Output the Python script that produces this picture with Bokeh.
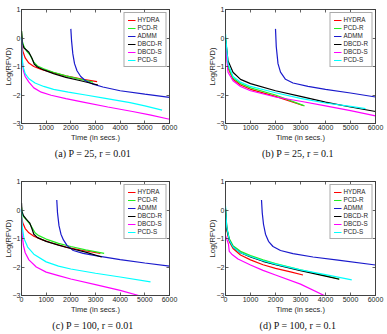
from bokeh.plotting import figure
from bokeh.layouts import gridplot
from bokeh.models import Title, Legend, LegendItem, Range1d, FixedTicker, LinearAxis
from bokeh.embed import file_html
from bokeh.resources import INLINE

SERIES = ["HYDRA", "PCD-R", "ADMM", "DBCD-R", "DBCD-S", "PCD-S"]
COLORS = ["#ff0000", "#22ee22", "#1a1acc", "#000000", "#ff00ff", "#00ffff"]
X_TICKS = [0, 1000, 2000, 3000, 4000, 5000, 6000]
Y_TICKS = [-3, -2, -1, 0, 1]
CAPTIONS = ["(a)  P = 25,  r = 0.01", "(b)  P = 25,  r = 0.1",
            "(c)  P = 100,  r = 0.01", "(d)  P = 100,  r = 0.1"]

# ---- panel (a): P=25, r=0.01
A_HYDRA_T = [0, 50, 150, 300, 500, 800, 1200, 1800, 2500, 3065]
A_HYDRA_Y = [-0.1, -0.45, -0.7, -0.88, -1.0, -1.1, -1.2, -1.33, -1.45, -1.53]
A_PCDR_T = [0, 30, 100, 200, 350, 500, 650, 900, 1300, 1800, 2400, 2900]
A_PCDR_Y = [0.25, -0.1, -0.3, -0.45, -0.6, -0.85, -0.98, -1.08, -1.2, -1.33, -1.45, -1.55]
A_ADMM_T = [2000, 2030, 2080, 2150, 2250, 2400, 2600, 2900, 3300, 4000, 5000, 6000]
A_ADMM_Y = [0.32, -0.1, -0.55, -0.9, -1.15, -1.35, -1.5, -1.62, -1.72, -1.85, -1.97, -2.08]
A_DBCDR_T = [0, 40, 100, 200, 300, 420, 520, 650, 900, 1300, 1800, 2400, 3100]
A_DBCDR_Y = [0.25, -0.2, -0.35, -0.42, -0.5, -0.7, -0.92, -1.02, -1.12, -1.25, -1.38, -1.5, -1.65]
A_DBCDS_T = [0, 30, 80, 150, 300, 500, 800, 1200, 1800, 2500, 3500, 4500, 5200, 6000]
A_DBCDS_Y = [0.0, -0.8, -1.15, -1.35, -1.55, -1.75, -1.9, -2.01, -2.13, -2.25, -2.42, -2.58, -2.7, -2.85]
A_PCDS_T = [0, 20, 60, 150, 300, 550, 900, 1300, 1900, 2600, 3400, 4400, 5000, 5700]
A_PCDS_Y = [0.0, -0.6, -1.0, -1.25, -1.43, -1.58, -1.7, -1.8, -1.9, -2.0, -2.12, -2.27, -2.38, -2.53]

# ---- panel (b): P=25, r=0.1
B_HYDRA_T = [0, 100, 300, 600, 1000, 2000, 3100]
B_HYDRA_Y = [-0.1, -1.05, -1.45, -1.65, -1.8, -2.05, -2.37]
B_PCDR_T = [0, 100, 300, 600, 1000, 2000, 3160]
B_PCDR_Y = [0.0, -1.0, -1.4, -1.6, -1.75, -2.0, -2.38]
B_ADMM_T = [2000, 2030, 2100, 2200, 2400, 2700, 3300, 4000, 5000, 6000]
B_ADMM_Y = [0.32, -0.3, -0.9, -1.2, -1.45, -1.58, -1.7, -1.8, -1.93, -2.07]
B_DBCDR_T = [0, 100, 300, 600, 1000, 2000, 3000, 4000, 5000, 6000]
B_DBCDR_Y = [0.0, -0.8, -1.2, -1.45, -1.6, -1.85, -2.05, -2.25, -2.42, -2.58]
B_DBCDS_T = [0, 100, 300, 600, 1000, 2000, 3000, 4000, 5000, 6000]
B_DBCDS_Y = [-0.2, -1.2, -1.5, -1.7, -1.85, -2.07, -2.22, -2.38, -2.55, -2.73]
B_PCDS_T = [0, 100, 300, 600, 1000, 2000, 3000, 4000, 5000, 5600]
B_PCDS_Y = [0.15, -0.9, -1.35, -1.55, -1.7, -1.92, -2.12, -2.28, -2.4, -2.48]

# ---- panel (c): P=100, r=0.01
C_HYDRA_T = [0, 50, 150, 300, 500, 800, 1200, 1800, 2500, 3200]
C_HYDRA_Y = [-0.2, -0.45, -0.65, -0.8, -0.92, -1.03, -1.15, -1.3, -1.42, -1.52]
C_PCDR_T = [0, 30, 100, 200, 350, 450, 550, 700, 1000, 1500, 2000, 2600, 3350]
C_PCDR_Y = [0.1, -0.15, -0.25, -0.35, -0.5, -0.65, -0.8, -0.9, -1.02, -1.17, -1.28, -1.4, -1.52]
C_ADMM_T = [1430, 1460, 1520, 1600, 1700, 1850, 2100, 2500, 3000, 4000, 5000, 6000]
C_ADMM_Y = [0.35, -0.1, -0.55, -0.85, -1.05, -1.25, -1.42, -1.52, -1.6, -1.74, -1.86, -1.97]
C_DBCDR_T = [0, 20, 80, 200, 330, 420, 500, 650, 1000, 1500, 2000, 2600, 3250]
C_DBCDR_Y = [0.25, -0.05, -0.2, -0.33, -0.45, -0.65, -0.85, -0.97, -1.1, -1.23, -1.35, -1.48, -1.65]
C_DBCDS_T = [0, 30, 80, 150, 300, 600, 1000, 1500, 2000, 3000, 4000, 4750]
C_DBCDS_Y = [-0.3, -0.9, -1.25, -1.5, -1.75, -2.0, -2.18, -2.3, -2.42, -2.62, -2.82, -3.0]
C_PCDS_T = [0, 30, 100, 250, 500, 1000, 1500, 2000, 3000, 4000, 5230]
C_PCDS_Y = [0.0, -0.6, -1.0, -1.3, -1.55, -1.82, -1.97, -2.07, -2.22, -2.35, -2.52]

# ---- panel (d): P=100, r=0.1
D_HYDRA_T = [0, 50, 150, 300, 600, 1000, 1500, 2000, 2600, 3100]
D_HYDRA_Y = [0.0, -0.7, -1.1, -1.35, -1.58, -1.75, -1.92, -2.05, -2.17, -2.28]
D_PCDR_T = [0, 50, 150, 300, 600, 1000, 1500, 2000, 3000, 4000, 4550]
D_PCDR_Y = [0.05, -0.6, -1.0, -1.25, -1.45, -1.6, -1.75, -1.88, -2.1, -2.3, -2.42]
D_ADMM_T = [1440, 1470, 1520, 1600, 1720, 1900, 2200, 2700, 3500, 4500, 6000]
D_ADMM_Y = [0.35, -0.1, -0.5, -0.85, -1.1, -1.28, -1.42, -1.53, -1.65, -1.76, -1.93]
D_DBCDR_T = [0, 50, 150, 300, 600, 1000, 1500, 2000, 3000, 4000, 4550]
D_DBCDR_Y = [0.05, -0.65, -1.05, -1.3, -1.5, -1.65, -1.8, -1.92, -2.13, -2.32, -2.43]
D_DBCDS_T = [0, 60, 120, 150, 250, 500, 1000, 1500, 2000, 3000, 3950]
D_DBCDS_Y = [-0.9, -1.05, -1.2, -1.45, -1.55, -1.72, -1.93, -2.12, -2.28, -2.6, -3.0]
D_PCDS_T = [0, 50, 150, 300, 600, 1000, 1500, 2000, 3000, 4000, 5050]
D_PCDS_Y = [0.15, -0.6, -1.05, -1.3, -1.5, -1.63, -1.78, -1.9, -2.1, -2.27, -2.45]

PANELS = [
    [(A_HYDRA_T, A_HYDRA_Y), (A_PCDR_T, A_PCDR_Y), (A_ADMM_T, A_ADMM_Y),
     (A_DBCDR_T, A_DBCDR_Y), (A_DBCDS_T, A_DBCDS_Y), (A_PCDS_T, A_PCDS_Y)],
    [(B_HYDRA_T, B_HYDRA_Y), (B_PCDR_T, B_PCDR_Y), (B_ADMM_T, B_ADMM_Y),
     (B_DBCDR_T, B_DBCDR_Y), (B_DBCDS_T, B_DBCDS_Y), (B_PCDS_T, B_PCDS_Y)],
    [(C_HYDRA_T, C_HYDRA_Y), (C_PCDR_T, C_PCDR_Y), (C_ADMM_T, C_ADMM_Y),
     (C_DBCDR_T, C_DBCDR_Y), (C_DBCDS_T, C_DBCDS_Y), (C_PCDS_T, C_PCDS_Y)],
    [(D_HYDRA_T, D_HYDRA_Y), (D_PCDR_T, D_PCDR_Y), (D_ADMM_T, D_ADMM_Y),
     (D_DBCDR_T, D_DBCDR_Y), (D_DBCDS_T, D_DBCDS_Y), (D_PCDS_T, D_PCDS_Y)],
]

# layout geometry: (width, height, left, right, top, bottom)
GEOM = [
    (193, 167, 20, 22, 9, 44),
    (194, 167, 32, 10, 9, 44),
    (193, 167, 18, 24, 14, 39),
    (194, 167, 31, 12, 14, 39),
]

SANS = "Liberation Sans"
SERIF = "Liberation Serif"
AX_COLOR = "#3a3a3a"


def style_axis(ax, labels=True):
    ax.major_tick_in = 3
    ax.major_tick_out = 0
    ax.minor_tick_line_color = None
    ax.axis_line_color = AX_COLOR
    ax.axis_line_width = 0.8
    ax.major_tick_line_color = AX_COLOR
    ax.major_tick_line_width = 0.8
    ax.major_label_text_font = SANS
    ax.major_label_text_color = "#262626"
    ax.major_label_text_font_size = "7px"
    ax.major_label_standoff = 1
    ax.axis_label_text_font = SANS
    ax.axis_label_text_font_size = "7.5px"
    ax.axis_label_text_font_style = "normal"
    ax.axis_label_text_color = "#262626"
    ax.axis_label_standoff = 0
    if not labels:
        # box ticks only (as on a MATLAB axes box)
        ax.major_label_text_font_size = "0px"
        ax.major_label_standoff = 0


figs = []
for i, series in enumerate(PANELS):
    w, h, l, r, t, b = GEOM[i]
    p = figure(width=w, height=h, output_backend="svg", toolbar_location=None,
               x_range=Range1d(0, 6000), y_range=Range1d(-3, 1),
               min_border_left=l, min_border_right=r, min_border_top=t,
               min_border_bottom=b)
    p.xgrid.visible = False
    p.ygrid.visible = False
    p.outline_line_color = AX_COLOR
    p.outline_line_width = 0.8
    p.background_fill_color = "white"
    p.border_fill_color = "white"

    p.xaxis.ticker = FixedTicker(ticks=X_TICKS)
    p.yaxis.ticker = FixedTicker(ticks=Y_TICKS)
    style_axis(p.xaxis[0])
    style_axis(p.yaxis[0])
    p.yaxis.axis_label_standoff = -3
    p.xaxis.axis_label = "Time (in secs.)"
    p.yaxis.axis_label = "Log(RFVD)"

    top_ax = LinearAxis(ticker=FixedTicker(ticks=X_TICKS))
    right_ax = LinearAxis(ticker=FixedTicker(ticks=Y_TICKS))
    style_axis(top_ax, labels=False)
    style_axis(right_ax, labels=False)
    p.add_layout(top_ax, "above")
    p.add_layout(right_ax, "right")

    items = []
    for k, (tt, yy) in enumerate(series):
        rr = p.line(tt, yy, line_color=COLORS[k], line_width=1.2)
        items.append(LegendItem(label=SERIES[k], renderers=[rr]))

    leg = Legend(items=items, location="top_right", margin=3, padding=3,
                 spacing=1, label_height=6, glyph_height=6, glyph_width=8,
                 label_standoff=2, label_text_font=SANS,
                 label_text_font_size="6.3px", label_text_color="#262626",
                 label_text_line_height=1.0,
                 border_line_color="#555555", border_line_width=0.6,
                 background_fill_alpha=1.0)
    p.add_layout(leg)

    cap = Title(text=CAPTIONS[i], align="center", text_font=SERIF,
                text_font_size="10px", text_font_style="normal",
                text_color="#111111", standoff=2)
    p.add_layout(cap, "below")
    figs.append(p)

grid = gridplot([[figs[0], figs[1]], [figs[2], figs[3]]], toolbar_location=None)

open("out.html", "w").write(file_html(grid, INLINE))
